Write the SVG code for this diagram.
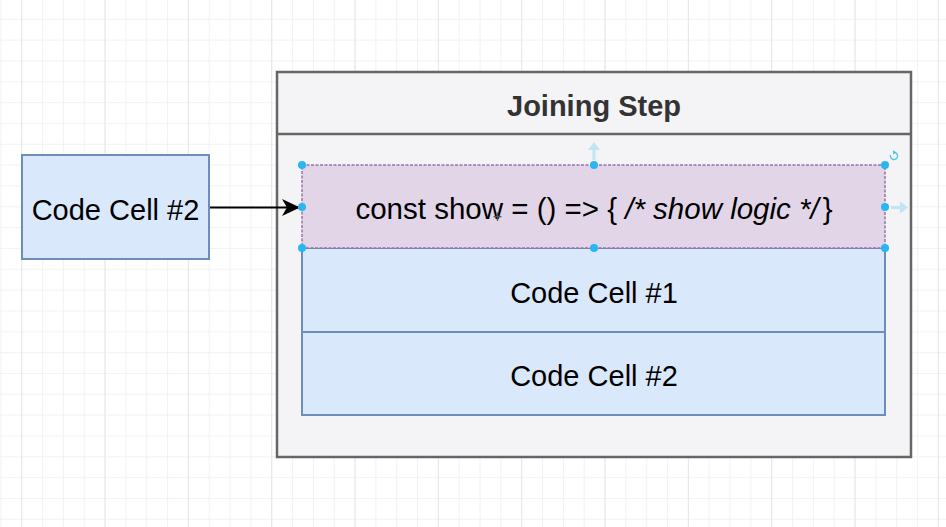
<svg xmlns="http://www.w3.org/2000/svg" width="946" height="527" viewBox="0 0 946 527">
<style>
.t{font-family:"Liberation Sans",Arial,sans-serif;font-size:29px;fill:#000;text-anchor:middle}
.cell{fill:#dae8fc;stroke:#6c8ebf;stroke-width:2}
.h{fill:#29b6f2}
.ghost{fill:#29b6f2;opacity:0.25}
</style>
<defs>
<pattern id="gmin" patternUnits="userSpaceOnUse" x="0.4" y="18.8" width="20.833" height="20.833">
<rect x="0" y="0" width="1" height="20.833" fill="#f2f2f2"/>
<rect x="0" y="0" width="20.833" height="1" fill="#f2f2f2"/>
</pattern>
<pattern id="gmaj" patternUnits="userSpaceOnUse" x="21.2" y="0" width="83.333" height="527">
<rect x="0" y="0" width="1" height="527" fill="#e6e6e6"/>
</pattern>
<marker id="arr" viewBox="0 0 20 20" refX="17" refY="10" markerWidth="20" markerHeight="20" markerUnits="userSpaceOnUse" orient="auto">
<path d="M0 1.5 L18 10 L0 18.5 L5 10 Z" fill="#000"/>
</marker>
</defs>
<rect width="946" height="527" fill="#fff"/>
<rect width="946" height="527" fill="url(#gmin)"/>
<rect width="946" height="527" fill="url(#gmaj)"/>

<g id="joining-step">
<rect x="277" y="72" width="634" height="385" fill="#f4f4f6" stroke="#666" stroke-width="2.5"/>
<line x1="277" y1="134" x2="911" y2="134" stroke="#666" stroke-width="2.5"/>
<text class="t" x="594" y="116" style="font-weight:bold;fill:#333">Joining Step</text>
</g>

<g id="code-cell-1">
<rect class="cell" x="302" y="248" width="583" height="84"/>
<text class="t" x="594" y="303">Code Cell #1</text>
</g>
<g id="code-cell-2">
<rect class="cell" x="302" y="332" width="583" height="83"/>
<text class="t" x="594" y="386">Code Cell #2</text>
</g>

<g id="show-cell">
<rect x="302" y="165" width="583" height="83" fill="#e1d5e7" stroke="#9673a6" stroke-width="1.5" stroke-dasharray="3 1.5"/>
<text class="t" x="594" y="218.5" style="font-size:29.5px">const show = () =&gt; { <tspan font-style="italic">/* show logic */</tspan><tspan dx="4">}</tspan></text>
</g>

<g id="left-code-cell-2">
<rect class="cell" x="22" y="155" width="187" height="104"/>
<text class="t" x="115.5" y="220">Code Cell #2</text>
</g>

<g id="connectors">
<line x1="210" y1="207.5" x2="299" y2="207.5" stroke="#000" stroke-width="2" marker-end="url(#arr)"/>
</g>

<g id="selection">
<path class="ghost" d="M594 142 L600 150 L595.5 150 L595.5 160 L592.5 160 L592.5 150 L588 150 Z"/>
<path class="ghost" d="M908 207.5 L900 201.5 L900 206 L891 206 L891 209 L900 209 L900 213.5 Z"/>
<path d="M890.5 155 A3.6 3.6 0 1 0 894 152.3" fill="none" stroke="#29b6f2" stroke-width="1.4" opacity="0.8"/>
<path d="M893 150 L896 152.5 L893 154.5 Z" fill="#29b6f2" opacity="0.8"/>
<circle class="h" cx="302" cy="165" r="4"/>
<circle class="h" cx="594" cy="165" r="4"/>
<circle class="h" cx="885" cy="165" r="4"/>
<circle class="h" cx="302" cy="207" r="4"/>
<circle class="h" cx="885" cy="207" r="4"/>
<circle class="h" cx="302" cy="248" r="4"/>
<circle class="h" cx="594" cy="248" r="4"/>
<circle class="h" cx="885" cy="248" r="4"/>
<path d="M497.5 212.5 V221 M493.5 216.7 H501.5" stroke="#555" stroke-width="1.3"/>
</g>
</svg>
